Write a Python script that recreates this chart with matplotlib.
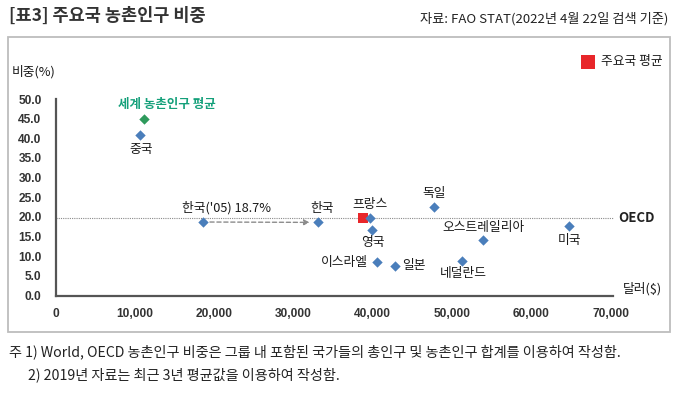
import matplotlib
matplotlib.use("Agg")
import matplotlib.pyplot as plt
from matplotlib.patches import Rectangle

plt.rcParams['font.family'] = ['Noto Sans CJK KR', 'DejaVu Sans']

# ---- data ----
countries = ['중국', '한국', '프랑스', '영국', '이스라엘', '일본', '독일', '네덜란드', '오스트레일리아', '미국']
gdp = [10650, 33100, 39700, 39950, 40580, 42770, 47700, 51300, 53900, 64800]
rural = [40.8, 18.6, 19.7, 16.7, 8.5, 7.6, 22.6, 8.8, 14.0, 17.8]

world_label = '세계 농촌인구 평균'
world_gdp = 11120
world_rural = 45.0

korea05_label = "한국('05) 18.7%"
korea05_gdp = 18600
korea05_rural = 18.7

avg_label = '주요국 평균'
avg_gdp = 38740
avg_rural = 19.6

oecd_label = 'OECD'
oecd_rural = 19.7

xticks = [0, 10000, 20000, 30000, 40000, 50000, 60000, 70000]
yticks = [0, 5, 10, 15, 20, 25, 30, 35, 40, 45, 50]

# label offsets in pixels (dx, dy, ha)
offsets = {
    '중국': (1, -14, 'center'),
    '한국': (4, 14, 'center'),
    '프랑스': (0, 13.5, 'center'),
    '영국': (1, -12.5, 'center'),
    '이스라엘': (-9, -0.5, 'right'),
    '일본': (7, 0, 'left'),
    '독일': (0, 12.7, 'center'),
    '네덜란드': (1, -12.4, 'center'),
    '오스트레일리아': (1, 12.7, 'center'),
    '미국': (0, -14.6, 'center'),
}

W, H = 680, 394
fig = plt.figure(figsize=(W / 100, H / 100), dpi=100)
fig.patch.set_facecolor('white')

# outer box
fig.add_artist(Rectangle((8 / W, 1 - 332 / H), (670 - 8) / W, (332 - 37) / H,
                         transform=fig.transFigure, fill=False,
                         edgecolor='#bdbdbd', linewidth=1.3))

# title and source
fig.text(9 / W, 1 - 16 / H, '[표3] 주요국 농촌인구 비중', fontsize=12.6, color='#333333',
         ha='left', va='center', fontweight='bold')
fig.text(668 / W, 1 - 19 / H, '자료: FAO STAT(2022년 4월 22일 검색 기준)', fontsize=9.5,
         color='#222222', ha='right', va='center')

# footnotes
fig.text(9 / W, 1 - 352 / H,
         '주 1) World, OECD 농촌인구 비중은 그룹 내 포함된 국가들의 총인구 및 농촌인구 합계를 이용하여 작성함.',
         fontsize=10.2, color='#222222', ha='left', va='center')
fig.text(28 / W, 1 - 375 / H, '2) 2019년 자료는 최근 3년 평균값을 이용하여 작성함.',
         fontsize=10.2, color='#222222', ha='left', va='center')

# axes
left_px, right_px = 55.5, 613
top_px, bot_px = 99, 295.5
ax = fig.add_axes([left_px / W, 1 - bot_px / H, (right_px - left_px) / W, (bot_px - top_px) / H])
ax.set_xlim(0, 70300)
ax.set_ylim(0, 50)
ax.patch.set_alpha(0)
for s in ['top', 'right']:
    ax.spines[s].set_visible(False)
for s in ['left', 'bottom']:
    ax.spines[s].set_color('#555555')
    ax.spines[s].set_linewidth(1.6)

ax.set_xticks(xticks)
ax.set_xticklabels([f'{v:,}' for v in xticks])
ax.set_yticks(yticks)
ax.set_yticklabels([f'{v:.1f}' for v in yticks])
ax.tick_params(length=0)
ax.tick_params(axis='x', pad=9)
ax.tick_params(axis='y', pad=10)
for lab in ax.get_xticklabels() + ax.get_yticklabels():
    lab.set_fontfamily('Liberation Sans')
    lab.set_fontweight('bold')
    lab.set_fontsize(8.6)
    lab.set_color('#333333')

# OECD dotted line
ax.plot([0, 70300], [oecd_rural, oecd_rural], linestyle=(0, (1, 1)), color='#8a8a8a',
        linewidth=0.8, zorder=1, clip_on=False)
ax.annotate(oecd_label, (70300, oecd_rural), xytext=(5, 0), textcoords='offset pixels',
            ha='left', va='center', fontsize=9.5, fontweight='bold', color='#222222',
            annotation_clip=False)

# arrow Korea 2005 -> Korea
ax.annotate('', xy=(gdp[1], rural[1]), xytext=(korea05_gdp, korea05_rural),
            arrowprops=dict(arrowstyle='-|>', linestyle=(0, (3, 2)), color='#8c8c8c',
                            linewidth=1.0, shrinkA=5, shrinkB=6, mutation_scale=8),
            zorder=2)

blue = '#4a7ebb'
ax.scatter(gdp, rural, marker='D', s=28, color=blue, zorder=4, linewidths=0, clip_on=False)
ax.scatter([korea05_gdp], [korea05_rural], marker='D', s=28, color=blue, zorder=4,
           linewidths=0, clip_on=False)
ax.scatter([world_gdp], [world_rural], marker='D', s=28, color='#2e9a5c', zorder=4,
           linewidths=0, clip_on=False)
ax.scatter([avg_gdp], [avg_rural], marker='s', s=52, color='#e8262a', zorder=3,
           linewidths=0, clip_on=False)

lab_kw = dict(textcoords='offset pixels', va='center', fontsize=9.2, color='#1a1a1a',
              annotation_clip=False)
for name, x, y in zip(countries, gdp, rural):
    dx, dy, ha = offsets[name]
    ax.annotate(name, (x, y), xytext=(dx, dy), ha=ha, **lab_kw)

ax.annotate(korea05_label, (korea05_gdp, korea05_rural), xytext=(23, 14), ha='center', **lab_kw)
ax.annotate(world_label, (world_gdp, world_rural), xytext=(23, 13.7), ha='center',
            textcoords='offset pixels', va='center', fontsize=9, color='#14a07a',
            fontweight='bold', annotation_clip=False)

# axis titles
fig.text(34 / W, 1 - 72 / H, '비중(%)', fontsize=9.2, color='#1a1a1a', ha='center',
         va='center')
fig.text(642 / W, 1 - 289 / H, '달러($)', fontsize=9.2, color='#1a1a1a', ha='center',
         va='center')

# legend
fig.add_artist(Rectangle((581 / W, 1 - 68.5 / H), 14 / W, 14 / H, transform=fig.transFigure,
                         facecolor='#e8262a', edgecolor='none'))
fig.text(601 / W, 1 - 61.5 / H, avg_label, fontsize=9.2, color='#1a1a1a', ha='left',
         va='center')

fig.savefig('out.png', dpi=100, facecolor='white')
